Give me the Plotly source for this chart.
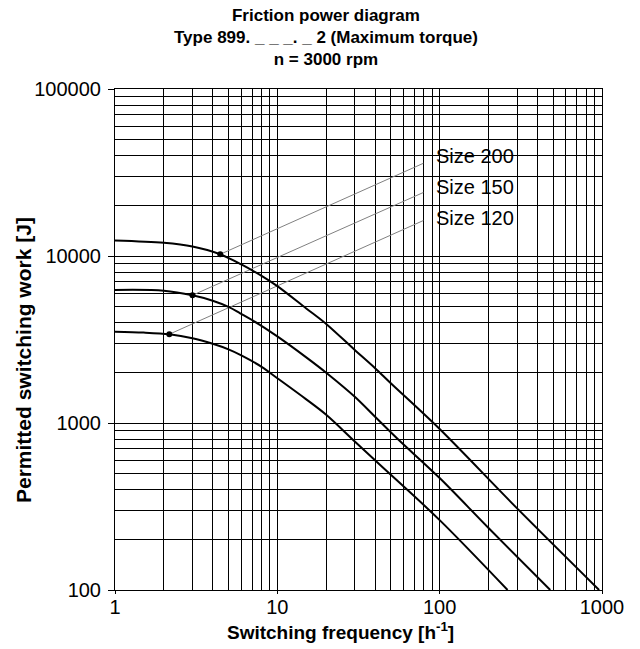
import math
import plotly.graph_objects as go

# ---- data ----
freq_200 = [1, 2, 3, 4.45, 6, 8, 10, 15, 20, 30, 40, 50, 100, 300, 960]
work_200 = [12400, 12000, 11400, 10240, 8900, 7600, 6600, 4870, 3920, 2735, 2130, 1730, 920, 308, 100]

freq_150 = [1, 2, 3, 4, 5.08, 5.9, 7.85, 10, 15, 20, 30, 40, 56, 100, 200, 480]
work_150 = [6260, 6200, 5820, 5400, 4930, 4540, 3860, 3300, 2480, 2000, 1435, 1090, 791, 468, 235, 100]

freq_120 = [1, 1.5, 2.16, 3, 4, 5, 6, 8, 10, 15, 20, 30, 43, 100, 262]
work_120 = [3520, 3480, 3400, 3220, 2980, 2760, 2540, 2170, 1855, 1390, 1120, 775, 560, 262, 100]

sizes = ["Size 200", "Size 150", "Size 120"]
dot_freq = [4.45, 3.0, 2.16]
dot_work = [10240, 5820, 3400]
leader_end_freq = 79.3
leader_end_work = [35900, 24000, 16300]
label_freq = 91.8
label_work = [39700, 25900, 16900]

x_tickvals = [1, 10, 100, 1000]
x_ticktext = ["1", "10", "100", "1000"]
y_tickvals = [100, 1000, 10000, 100000]
y_ticktext = ["100", "1000", "10000", "100000"]

x_minor = [m * 10 ** d for d in range(0, 3) for m in range(2, 10)]
y_minor = [m * 10 ** d for d in range(2, 5) for m in range(2, 10)]

FONT = "Liberation Sans, Arial, Helvetica, sans-serif"

fig = go.Figure()

# leader lines
for f, w, we in zip(dot_freq, dot_work, leader_end_work):
    fig.add_trace(go.Scatter(x=[f, leader_end_freq], y=[w, we], mode="lines",
                             line=dict(color="#808080", width=1), hoverinfo="skip",
                             showlegend=False))

for fx, wy in [(freq_200, work_200), (freq_150, work_150), (freq_120, work_120)]:
    fig.add_trace(go.Scatter(x=fx, y=wy, mode="lines", line=dict(color="black", width=2,
                             shape="spline", smoothing=0.9), showlegend=False))

fig.add_trace(go.Scatter(x=dot_freq, y=dot_work, mode="markers",
                         marker=dict(color="black", size=6), showlegend=False))

# white box behind labels
fig.add_shape(type="rect", xref="x", yref="y",
              x0=math.log10(68), x1=math.log10(543),
              y0=math.log10(13000), y1=math.log10(51600),
              fillcolor="white", line=dict(width=0), layer="between")

for t, wy in zip(sizes, label_work):
    fig.add_annotation(x=math.log10(label_freq), y=math.log10(wy), text=t,
                       showarrow=False, xanchor="left", yanchor="middle",
                       font=dict(family=FONT, size=20, color="black"))

# title (three lines)
fig.add_annotation(xref="paper", yref="paper", x=0.434, y=1.036,
                   xanchor="center", yanchor="bottom", showarrow=False,
                   text="<b>Friction power diagram<br>Type 899. _ _ _. _ 2 (Maximum torque)<br>n = 3000 rpm</b>",
                   font=dict(family=FONT, size=17, color="black"))

# axis titles
fig.add_annotation(xref="paper", yref="paper", x=0.463, y=-0.082,
                   xanchor="center", yanchor="middle", showarrow=False,
                   text="<b>Switching frequency [h<sup>-1</sup>]</b>",
                   font=dict(family=FONT, size=19, color="black"))
fig.add_annotation(xref="paper", yref="paper", x=-0.189, y=0.459,
                   xanchor="center", yanchor="middle", showarrow=False, textangle=-90,
                   text="<b>Permitted switching work [J]</b>",
                   font=dict(family=FONT, size=21, color="black"))

# the page body adds an 8 px offset, so the figure is sized to fill the rest of the window
fig.update_layout(
    width=632, height=641,
    margin=dict(l=107, r=38, t=81, b=59),
    paper_bgcolor="white", plot_bgcolor="white",
    font=dict(family=FONT, color="black"),
)

fig.update_xaxes(type="log", range=[0, 3], tickvals=x_tickvals, ticktext=x_ticktext,
                 ticks="outside", ticklen=3, tickcolor="black", ticklabelstandoff=-4,
                 showgrid=True, gridcolor="black", gridwidth=1,
                 minor=dict(tickvals=x_minor, showgrid=True, gridcolor="black", gridwidth=1, ticks=""),
                 showline=True, linecolor="black", linewidth=1, mirror=True,
                 tickfont=dict(family=FONT, size=20, color="black"),
                 zeroline=False)
fig.update_yaxes(type="log", range=[2, 5], tickvals=y_tickvals, ticktext=y_ticktext,
                 ticks="outside", ticklen=6, tickcolor="black", ticklabelstandoff=3,
                 showgrid=True, gridcolor="black", gridwidth=1,
                 minor=dict(tickvals=y_minor, showgrid=True, gridcolor="black", gridwidth=1, ticks=""),
                 showline=True, linecolor="black", linewidth=1, mirror=True,
                 tickfont=dict(family=FONT, size=20, color="black"),
                 zeroline=False)

fig.write_html("out.html")
